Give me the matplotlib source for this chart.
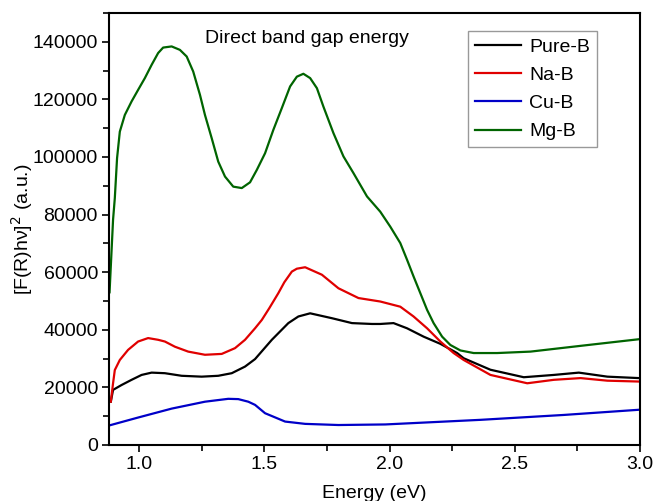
import matplotlib
matplotlib.use("Agg")
import matplotlib.pyplot as plt
from matplotlib.ticker import MultipleLocator, FormatStrFormatter

plt.rcParams['font.family'] = ['Liberation Sans', 'DejaVu Sans']

# Pure-B
pure_x = [0.887, 0.896, 0.93, 0.97, 1.01, 1.05, 1.103, 1.17, 1.25, 1.316, 1.37, 1.423,
          1.463, 1.53, 1.596, 1.636, 1.683, 1.77, 1.85, 1.93, 1.963, 2.016, 2.07, 2.136,
          2.203, 2.27, 2.296, 2.403, 2.536, 2.656, 2.756, 2.87, 2.996]
pure_y = [15000, 19100, 20800, 22600, 24300, 25100, 24900, 24000, 23700, 24000, 24900,
          27200, 29800, 36500, 42300, 44600, 45700, 44000, 42300, 42000, 42000, 42300,
          40500, 37600, 35100, 31900, 30100, 26100, 23500, 24300, 25100, 23700, 23200]

# Na-B
na_x = [0.887, 0.896, 0.903, 0.923, 0.956, 0.996, 1.036, 1.076, 1.103, 1.143, 1.196,
        1.263, 1.33, 1.383, 1.423, 1.463, 1.49, 1.52, 1.556, 1.58, 1.61, 1.63, 1.663,
        1.73, 1.796, 1.876, 1.963, 2.043, 2.096, 2.15, 2.203, 2.256, 2.296, 2.403, 2.55,
        2.656, 2.763, 2.87, 2.996]
na_y = [15000, 21400, 26000, 29500, 33000, 35900, 37100, 36500, 35900, 34100, 32400,
        31300, 31600, 33600, 36500, 40500, 43400, 47500, 52700, 56500, 60200, 61200, 61700,
        59100, 54400, 51000, 49800, 48000, 44600, 40500, 35900, 31900, 29500, 24300, 21400,
        22600, 23200, 22300, 22000]

# Cu-B
cu_x = [0.887, 0.996, 1.13, 1.263, 1.356, 1.396, 1.436, 1.463, 1.503, 1.583, 1.663,
        1.796, 1.983, 2.363, 2.696, 2.996]
cu_y = [6900, 9500, 12600, 15000, 16000, 15900, 15000, 13900, 11000, 8100, 7300,
        6900, 7100, 8700, 10400, 12200]

# Mg-B
mg_x = [0.882, 0.896, 0.903, 0.912, 0.923, 0.943, 0.97, 0.996, 1.023, 1.05, 1.076, 1.096,
        1.13, 1.163, 1.19, 1.216, 1.243, 1.263, 1.29, 1.316, 1.343, 1.376, 1.41, 1.443,
        1.47, 1.503, 1.536, 1.57, 1.603, 1.63, 1.656, 1.683, 1.71, 1.736, 1.776, 1.816,
        1.856, 1.91, 1.963, 2.003, 2.043, 2.07, 2.096, 2.123, 2.15, 2.176, 2.21, 2.243,
        2.283, 2.336, 2.43, 2.563, 2.763, 2.996]
mg_y = [53000, 78200, 85700, 99600, 108800, 114600, 119300, 123300, 127400, 132000,
        136100, 138000, 138400, 137200, 134900, 129700, 121600, 114600, 106500, 98400,
        93200, 89700, 89200, 91200, 95500, 101300, 109400, 117000, 124500, 127900, 128900,
        127400, 123900, 117500, 108300, 100200, 94400, 86300, 81000, 75800, 70100, 64300,
        58500, 52700, 46900, 42300, 37600, 34700, 32800, 31900, 31900, 32400, 34400, 36700]

fig = plt.figure(figsize=(6.53, 5.01), dpi=100)
ax = fig.add_axes([0.167, 0.112, 0.813, 0.862])

ax.plot(pure_x, pure_y, color='black', lw=1.6, label='Pure-B')
ax.plot(na_x, na_y, color='#e00000', lw=1.6, label='Na-B')
ax.plot(cu_x, cu_y, color='#0000c8', lw=1.6, label='Cu-B')
ax.plot(mg_x, mg_y, color='#006400', lw=1.6, label='Mg-B')

ax.set_xlim(0.88, 3.0)
ax.set_ylim(0, 150000)
ax.xaxis.set_major_locator(MultipleLocator(0.5))
ax.xaxis.set_minor_locator(MultipleLocator(0.25))
ax.yaxis.set_major_locator(MultipleLocator(20000))
ax.yaxis.set_minor_locator(MultipleLocator(10000))
ax.xaxis.set_major_formatter(FormatStrFormatter('%.1f'))
ax.tick_params(which='both', direction='out', labelsize=14, width=1.2, pad=3)
ax.tick_params(which='major', length=5)
ax.tick_params(which='minor', length=4)
for s in ax.spines.values():
    s.set_linewidth(1.5)

ax.set_xlabel('Energy (eV)', fontsize=14, labelpad=9)
ax.set_ylabel('[F(R)h\u03bd]$^2$ (a.u.)', fontsize=14, labelpad=-2)

ax.text(0.181, 0.942, 'Direct band gap energy', transform=ax.transAxes,
        fontsize=14, va='center', ha='left')

leg = ax.legend(loc='upper right', bbox_to_anchor=(0.919, 0.958), fontsize=14,
                frameon=True, fancybox=False, edgecolor='gray',
                handlelength=2.4, handletextpad=0.4, borderpad=0.35,
                labelspacing=0.55, borderaxespad=0)
leg.get_frame().set_linewidth(1.0)

fig.savefig('out.png', dpi=100)
